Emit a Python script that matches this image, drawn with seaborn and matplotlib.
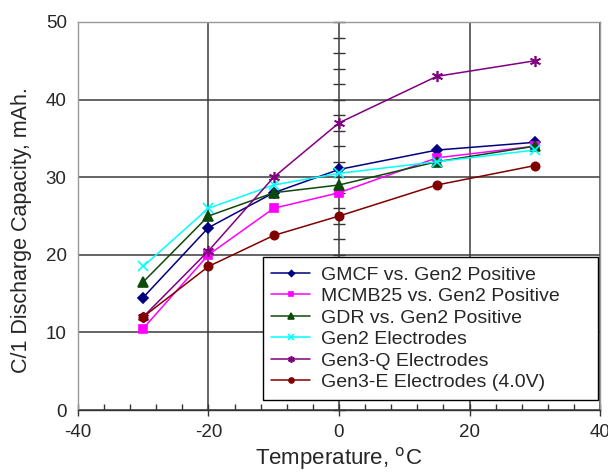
import numpy as np
import pandas as pd
import matplotlib
matplotlib.use("Agg")
import matplotlib.pyplot as plt
from matplotlib.ticker import MultipleLocator
import seaborn as sns

temps = [-30, -20, -10, 0, 15, 30]

gmcf = [14.5, 23.5, 28, 31, 33.5, 34.5]
mcmb25 = [10.5, 20, 26, 28, 32.5, 34]
gdr = [16.5, 25, 28, 29, 32, 34]
gen2 = [18.5, 26, 29, 30.5, 32, 33.5]
gen3q = [12, 20.5, 30, 37, 43, 45]
gen3e = [12, 18.5, 22.5, 25, 29, 31.5]

labels = ["GMCF vs. Gen2 Positive", "MCMB25 vs. Gen2 Positive", "GDR vs. Gen2 Positive",
          "Gen2 Electrodes", "Gen3-Q Electrodes", "Gen3-E Electrodes (4.0V)"]
series = [gmcf, mcmb25, gdr, gen2, gen3q, gen3e]
colors = ["#000080", "#FF00FF", "#0B4A0B", "#00FFFF", "#800080", "#800000"]
markers = ["D", "s", "^", "x", (6, 2, 0), "o"]
msizes = [5, 6, 7, 7, 8, 6]

sns.set_style("white")
plt.rcParams['font.family'] = ['Liberation Sans', 'DejaVu Sans']
plt.rcParams['axes.unicode_minus'] = False

fig, ax = plt.subplots(figsize=(6.08, 4.73), dpi=100)
fig.subplots_adjust(left=0.128, right=0.987, top=0.9535, bottom=0.133)

for lab, vals, c, m, ms in zip(labels, series, colors, markers, msizes):
    df = pd.DataFrame({"T": temps, "cap": vals})
    sns.lineplot(data=df, x="T", y="cap", ax=ax, color=c, marker=m, markersize=ms,
                 markeredgecolor=c, markerfacecolor=c, markeredgewidth=1.2,
                 linewidth=1.1, label=lab)

ax.set_xlim(-40, 40)
ax.set_ylim(0, 50)
ax.xaxis.set_major_locator(MultipleLocator(20))
ax.xaxis.set_minor_locator(MultipleLocator(4))
ax.yaxis.set_major_locator(MultipleLocator(10))
ax.grid(True, which="major", color="#3a3a3a", linewidth=1.1)
ax.set_axisbelow(True)

for s in ax.spines.values():
    s.set_color("#999999")
    s.set_linewidth(1.0)
ax.spines['bottom'].set_color("#333333")

ax.tick_params(axis="x", which="major", direction="inout", length=8, width=1,
               color="#333333", labelsize=13.5, pad=6, bottom=True)
ax.tick_params(axis="x", which="minor", direction="in", length=4, width=1,
               color="#333333", bottom=True)
ax.tick_params(axis="y", which="both", length=0, labelsize=13.5, pad=8)

# minor ticks on the vertical line at x = 0
sec = ax.secondary_yaxis(0.5)
sec.yaxis.set_major_locator(MultipleLocator(2))
sec.tick_params(axis="y", direction="inout", length=8, width=1, color="#333333",
                labelleft=False, labelright=False)
sec.spines['left'].set_visible(False)
sec.spines['right'].set_visible(False)

ax.set_xlabel("Temperature, $^{\\mathrm{o}}$C", fontsize=16, labelpad=3)
ax.set_ylabel("C/1 Discharge Capacity, mAh.", fontsize=15.5)
ax.yaxis.set_label_coords(-0.087, 0.465)

leg = ax.legend(loc="lower left", bbox_to_anchor=(0.354, 0.026, 0.642, 0.368),
                mode="expand", borderaxespad=0, fancybox=False, framealpha=1,
                edgecolor="black", fontsize=14, handlelength=2.0, markerscale=0.6,
                labelspacing=0.2, borderpad=0.45, handletextpad=0.55)
leg.get_frame().set_linewidth(1.0)

fig.savefig("out.png", dpi=100)
